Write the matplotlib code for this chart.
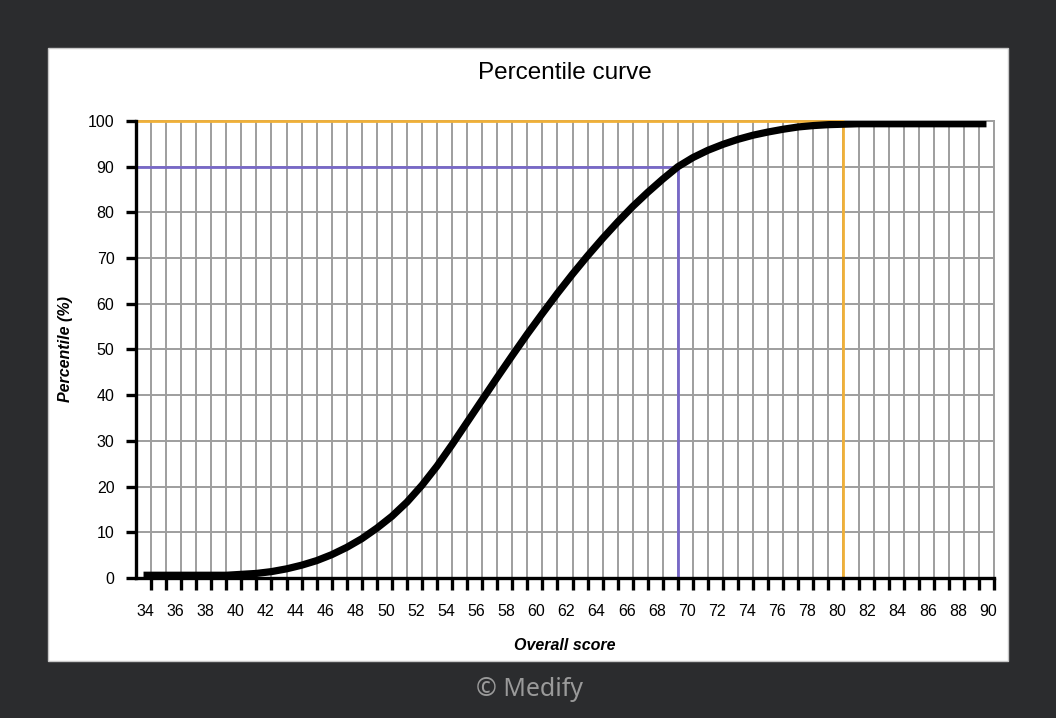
import numpy as np
import matplotlib
matplotlib.use("Agg")
from matplotlib import pyplot as plt
from matplotlib.patches import Rectangle
from matplotlib.transforms import ScaledTranslation

plt.rcParams['font.family'] = ['Liberation Sans', 'DejaVu Sans']

# curve
scores = [33.5, 34, 35, 36, 37, 38, 39, 40, 41, 42, 43, 44, 45, 46, 47, 48,
          49, 50, 51, 52, 53, 54, 55, 56, 57, 58, 59, 60, 61, 62, 63, 64, 65,
          66, 67, 68, 69, 70, 71, 72, 73, 74, 75, 76, 77, 78, 79, 80, 81, 82,
          83, 84, 85, 86, 87, 88, 89, 89.5]
percentiles = [0.6, 0.6, 0.6, 0.6, 0.6, 0.6, 0.6, 0.8, 1.0, 1.4, 2.0, 2.8,
               3.8, 5.1, 6.7, 8.6, 10.9, 13.5, 16.6, 20.3, 24.5, 29.2, 34.1,
               39.0, 43.9, 48.7, 53.4, 57.9, 62.3, 66.5, 70.5, 74.3, 77.9,
               81.3, 84.4, 87.3, 90.0, 92.0, 93.6, 94.9, 96.0, 96.9, 97.6,
               98.2, 98.7, 99.0, 99.2, 99.3, 99.4, 99.4, 99.4, 99.4, 99.4,
               99.4, 99.4, 99.4, 99.4, 99.4]

# marker lines: (score, percentile)
p90_score, p90_value = 69, 90
p100_score, p100_value = 80, 100

x_ticks = list(range(34, 91))
x_labels = [str(v) if v % 2 == 0 else '' for v in x_ticks]
y_ticks = list(range(0, 101, 10))

grid_col = '#9e9e9e'
purple = '#7868c8'
orange = '#f0b038'

fig = plt.figure(figsize=(10.56, 7.18), dpi=100, facecolor='#2b2c2e')

# white card behind the chart
fig.patches.append(Rectangle((48/1056, 57/718), 960/1056, 613/718,
                             transform=fig.transFigure, facecolor='white',
                             edgecolor='#c8c8c8', lw=1, zorder=-1))

ax = fig.add_axes([136/1056, 140/718, 858/1056, 457/718])
ax.set_xlim(33, 90)
ax.set_ylim(0, 100)

ax.set_xticks(x_ticks)
ax.set_xticklabels(x_labels)
ax.set_yticks(y_ticks)
ax.grid(True, color=grid_col, lw=1.4)

ax.tick_params(axis='x', length=8.5, width=2.4, pad=10, labelsize=11.5)
ax.tick_params(axis='y', length=7.5, width=2.4, pad=8, labelsize=11.5)

# x labels in the original sit a little left of their ticks
shift = ScaledTranslation(-6/100, 0, fig.dpi_scale_trans)
for lbl in ax.get_xticklabels():
    lbl.set_transform(lbl.get_transform() + shift)

for side in ['left', 'bottom']:
    ax.spines[side].set_linewidth(2.4)
    ax.spines[side].set_zorder(5)
for side in ['top', 'right']:
    ax.spines[side].set_color(grid_col)
    ax.spines[side].set_linewidth(1.4)

# guide lines
ax.plot([33, p90_score, p90_score], [p90_value, p90_value, 0],
        color=purple, lw=2, zorder=3)
ax.plot([33, p100_score, p100_score], [p100_value, p100_value, 0],
        color=orange, lw=2, zorder=3, clip_on=False)

ax.plot(scores, percentiles, color='black', lw=5.2, zorder=4,
        solid_capstyle='butt')

ax.set_title('Percentile curve', fontsize=17.5, pad=30)
ax.set_xlabel('Overall score', fontsize=11.5, fontweight='bold',
              fontstyle='italic', labelpad=14)
ax.set_ylabel('Percentile (%)', fontsize=11.5, fontweight='bold',
              fontstyle='italic', labelpad=11)

fig.text(529/1056, 1 - 689/718, '\u00a9 Medify', color='#9a9a9a',
         fontsize=18, ha='center', va='center', family=['Noto Sans'])

fig.savefig('out.png', dpi=100, facecolor=fig.get_facecolor())
